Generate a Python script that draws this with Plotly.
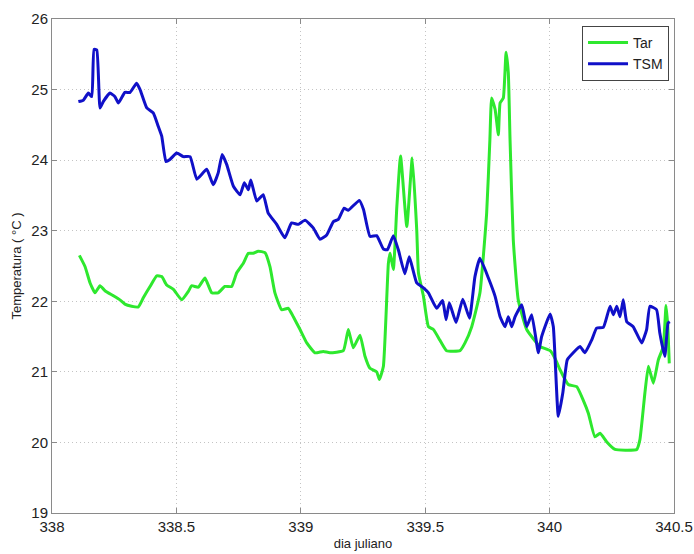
import plotly.graph_objects as go

# Air temperature (Tar)
tar_dia = [338.110, 338.133, 338.153, 338.173, 338.193, 338.213, 338.246, 338.273, 338.293, 338.320,
           338.347, 338.367, 338.394, 338.421, 338.441, 338.461, 338.488, 338.521, 338.548, 338.561,
           338.588, 338.615, 338.642, 338.668, 338.695, 338.722, 338.742, 338.769, 338.789, 338.809,
           338.829, 338.856, 338.876, 338.896, 338.923, 338.950, 338.970, 338.997, 339.024, 339.057,
           339.090, 339.117, 339.171, 339.191, 339.211, 339.238, 339.258, 339.278, 339.305, 339.316,
           339.332, 339.352, 339.359, 339.372, 339.386, 339.401, 339.426, 339.448, 339.466, 339.473,
           339.493, 339.513, 339.533, 339.559, 339.586, 339.640, 339.660, 339.687, 339.720, 339.747,
           339.760, 339.767, 339.781, 339.794, 339.801, 339.814, 339.825, 339.834, 339.841, 339.854,
           339.874, 339.908, 339.961, 340.002, 340.022, 340.042, 340.075, 340.109, 340.135, 340.156,
           340.182, 340.203, 340.229, 340.263, 340.310, 340.350, 340.363, 340.383, 340.397, 340.417,
           340.437, 340.457, 340.468, 340.475, 340.481]
tar_temp = [22.65, 22.49, 22.26, 22.12, 22.22, 22.15, 22.08, 22.02, 21.96, 21.93,
            21.92, 22.05, 22.21, 22.36, 22.35, 22.23, 22.17, 22.02, 22.14, 22.22,
            22.20, 22.33, 22.12, 22.12, 22.21, 22.21, 22.40, 22.54, 22.68, 22.68,
            22.71, 22.69, 22.49, 22.12, 21.88, 21.90, 21.78, 21.60, 21.41, 21.27,
            21.29, 21.27, 21.30, 21.60, 21.34, 21.52, 21.22, 21.05, 21.00, 20.89,
            21.08, 22.54, 22.68, 22.45, 23.34, 24.06, 23.06, 24.03, 23.01, 22.40,
            22.07, 21.64, 21.60, 21.45, 21.30, 21.30, 21.41, 21.64, 22.12, 23.25,
            24.29, 24.88, 24.72, 24.36, 24.81, 24.88, 25.53, 25.24, 24.29, 22.87,
            22.02, 21.60, 21.36, 21.30, 21.19, 21.03, 20.82, 20.79, 20.60, 20.41,
            20.08, 20.13, 20.01, 19.90, 19.89, 19.90, 20.04, 20.70, 21.08, 20.84,
            21.17, 21.36, 21.94, 21.64, 21.12]

# Sea surface temperature (TSM)
tsm_dia = [338.106, 338.126, 338.146, 338.160, 338.169, 338.180, 338.193, 338.206, 338.233, 338.253,
           338.267, 338.293, 338.314, 338.340, 338.354, 338.381, 338.407, 338.427, 338.441, 338.458,
           338.474, 338.501, 338.528, 338.555, 338.582, 338.622, 338.648, 338.668, 338.684, 338.702,
           338.729, 338.756, 338.773, 338.789, 338.799, 338.823, 338.849, 338.869, 338.903, 338.936,
           338.963, 338.990, 339.017, 339.050, 339.077, 339.104, 339.131, 339.151, 339.174, 339.191,
           339.235, 339.252, 339.278, 339.305, 339.332, 339.348, 339.372, 339.392, 339.418, 339.436,
           339.466, 339.493, 339.513, 339.546, 339.570, 339.584, 339.597, 339.624, 339.651, 339.678,
           339.700, 339.720, 339.754, 339.781, 339.801, 339.821, 339.834, 339.848, 339.861, 339.888,
           339.908, 339.928, 339.955, 339.968, 340.002, 340.015, 340.035, 340.053, 340.071, 340.095,
           340.122, 340.142, 340.169, 340.189, 340.216, 340.243, 340.256, 340.270, 340.283, 340.296,
           340.310, 340.336, 340.370, 340.390, 340.403, 340.430, 340.443, 340.463, 340.476, 340.483]
tsm_temp = [24.83, 24.85, 24.95, 24.90, 25.57, 25.56, 24.74, 24.83, 24.95, 24.90,
            24.81, 24.96, 24.96, 25.09, 25.00, 24.74, 24.67, 24.48, 24.34, 23.98,
            24.01, 24.10, 24.05, 24.05, 23.73, 23.87, 23.65, 23.82, 24.08, 23.94,
            23.63, 23.51, 23.68, 23.58, 23.72, 23.42, 23.51, 23.25, 23.09, 22.90,
            23.11, 23.09, 23.15, 23.04, 22.88, 22.94, 23.13, 23.16, 23.32, 23.29,
            23.43, 23.30, 22.92, 22.93, 22.74, 22.73, 22.93, 22.73, 22.39, 22.63,
            22.26, 22.19, 22.12, 21.90, 22.01, 21.74, 21.98, 21.70, 22.03, 21.76,
            22.35, 22.61, 22.33, 22.07, 21.78, 21.64, 21.78, 21.64, 21.78, 21.95,
            21.64, 21.81, 21.27, 21.50, 21.82, 21.64, 20.37, 20.70, 21.17, 21.27,
            21.36, 21.27, 21.45, 21.62, 21.63, 21.93, 21.81, 21.93, 21.78, 22.02,
            21.71, 21.64, 21.41, 21.60, 21.93, 21.88, 21.55, 21.22, 21.69, 21.71]

x_ticks = [338, 338.5, 339, 339.5, 340, 340.5]
x_labels = ["338", "338.5", "339", "339.5", "340", "340.5"]
y_ticks = [19, 20, 21, 22, 23, 24, 25, 26]

FONT = "Liberation Sans, Arial, sans-serif"

fig = go.Figure()
fig.add_trace(go.Scatter(x=tar_dia, y=tar_temp, mode="lines", name="Tar",
                         line=dict(color="#2ee82e", width=3, shape="spline", smoothing=0.4)))
fig.add_trace(go.Scatter(x=tsm_dia, y=tsm_temp, mode="lines", name="TSM",
                         line=dict(color="#1010c8", width=3, shape="spline", smoothing=0.4)))

axis_common = dict(
    automargin=False,
    showgrid=True, gridcolor="#c4c4c4", griddash="1px,3px", gridwidth=1,
    showline=True, linecolor="#8a8a8a", linewidth=1, mirror="ticks",
    ticks="inside", ticklen=5, tickcolor="#8a8a8a",
    zeroline=False,
    tickfont=dict(family=FONT, size=15, color="#222222"),
)

fig.update_xaxes(range=[338, 340.5], tickvals=x_ticks, ticktext=x_labels,
                 title=dict(text="dia juliano", standoff=4,
                            font=dict(family=FONT, size=13, color="#222222")),
                 **axis_common)
fig.update_yaxes(range=[19, 26], tickvals=y_ticks,
                 title=dict(text="Temperatura ( °C )", standoff=6,
                            font=dict(family=FONT, size=13, color="#222222")),
                 **axis_common)

fig.update_layout(
    width=694, height=554,
    margin=dict(l=52, r=20, t=19, b=41),
    paper_bgcolor="white", plot_bgcolor="white",
    showlegend=True,
    legend=dict(x=0.992, y=0.986, xanchor="right", yanchor="top",
                bgcolor="white", bordercolor="#444444", borderwidth=1,
                font=dict(family=FONT, size=14, color="#222222"),
                tracegroupgap=0, itemwidth=40),
)

fig.write_html("out.html")
